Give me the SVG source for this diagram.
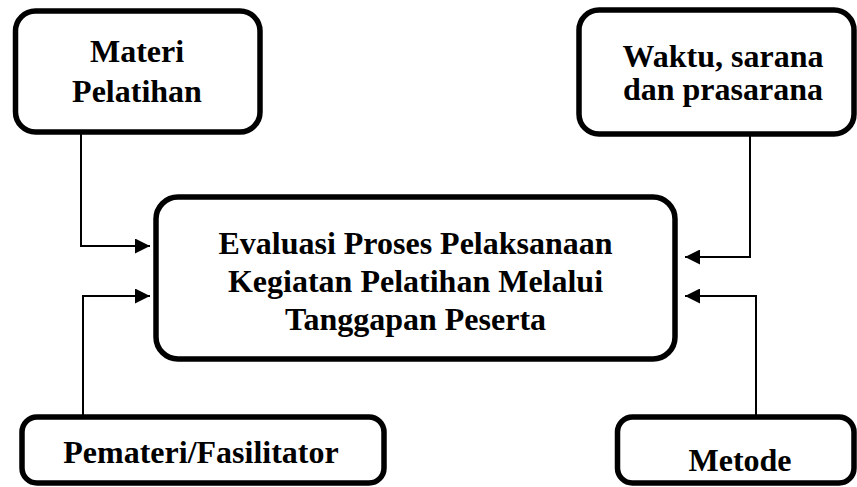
<svg xmlns="http://www.w3.org/2000/svg" width="857" height="487" viewBox="0 0 857 487">
<style>
.box{fill:#fff;stroke:#000;stroke-width:5.5}
.t{font-family:"Liberation Serif","Times New Roman",serif;font-weight:bold;font-size:32px;fill:#000;text-anchor:middle}
.c{fill:none;stroke:#000;stroke-width:2}
</style>
<defs>
<marker id="ah" markerWidth="15" markerHeight="15" refX="15" refY="7.5" orient="auto" markerUnits="userSpaceOnUse">
<path d="M0,0 L15,7.5 L0,15 Z" fill="#000"/>
</marker>
</defs>
<rect width="857" height="487" fill="#fff"/>
<g id="connectors">
<path class="c" d="M81,133 V246 H150" marker-end="url(#ah)"/>
<path class="c" d="M83,417 V296 H150" marker-end="url(#ah)"/>
<path class="c" d="M750,134 V257 H685" marker-end="url(#ah)"/>
<path class="c" d="M756,417 V296 H685" marker-end="url(#ah)"/>
</g>
<g id="materi">
<rect class="box" x="15.5" y="11" width="244.5" height="121" rx="20"/>
<text class="t" x="137" y="62">Materi</text>
<text class="t" x="137" y="102">Pelatihan</text>
</g>
<g id="waktu">
<rect class="box" x="579" y="10" width="275" height="124" rx="20"/>
<text class="t" x="723" y="67">Waktu, sarana</text>
<text class="t" x="723" y="100">dan prasarana</text>
</g>
<g id="evaluasi">
<rect class="box" x="156" y="197" width="519" height="162" rx="22"/>
<text class="t" x="415.5" y="254">Evaluasi Proses Pelaksanaan</text>
<text class="t" x="415.5" y="292">Kegiatan Pelatihan Melalui</text>
<text class="t" x="415.5" y="330">Tanggapan Peserta</text>
</g>
<g id="pemateri">
<rect class="box" x="22" y="417" width="362" height="66" rx="15"/>
<text class="t" x="201" y="463">Pemateri/Fasilitator</text>
</g>
<g id="metode">
<rect class="box" x="617.5" y="417" width="236.5" height="66" rx="15"/>
<text class="t" x="740" y="471">Metode</text>
</g>
</svg>
